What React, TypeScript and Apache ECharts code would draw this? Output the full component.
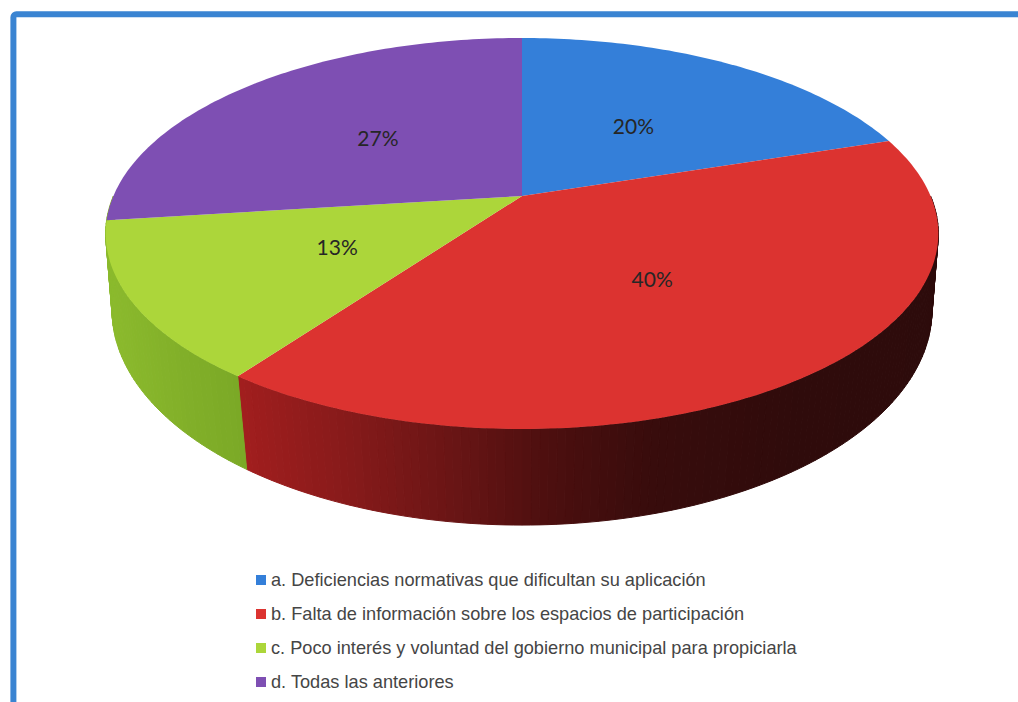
import React, { useEffect, useRef } from "react";
import * as echarts from "echarts";

const categories = [
  "a. Deficiencias normativas que dificultan su aplicación",
  "b. Falta de información sobre los espacios de participación",
  "c. Poco interés y voluntad del gobierno municipal para propiciarla",
  "d. Todas las anteriores",
];
const percentages = [20, 40, 13, 27];
const topColors = ["#347FD9", "#DC3330", "#ACD63A", "#7E4FB3"];
// side colours along the horizontal axis of the picture: [x, colour]
const redSide: [number, number[]][] = [
  [240, [162, 30, 30]],
  [350, [134, 26, 26]],
  [450, [106, 21, 21]],
  [550, [76, 15, 15]],
  [650, [56, 12, 12]],
  [800, [47, 11, 11]],
  [940, [45, 11, 11]],
];
const greenSide: [number, number[]][] = [
  [105, [140, 187, 45]],
  [180, [130, 176, 41]],
  [250, [122, 168, 38]],
];
const sideRamps = [redSide, redSide, greenSide, greenSide];

const CX = 522;
const TOP = { y0: 196, a: 188.3, b: 0.1918, c: 408.6 };
const BOTTOM = { y0: 273.5, a: 208.8, b: 0.17, c: 404 };

const project = (d: typeof TOP, deg: number, r = 1): [number, number] => {
  const t = (deg * Math.PI) / 180;
  const u = r * Math.sin(t);
  const v = r * Math.cos(t);
  const w = 1 + d.b * v;
  return [CX + (d.c * u) / w, d.y0 - (d.a * v) / w];
};

const rampColor = (ramp: [number, number[]][], x: number) => {
  let i = 0;
  while (i < ramp.length - 2 && x > ramp[i + 1][0]) i++;
  const [x0, c0] = ramp[i];
  const [x1, c1] = ramp[i + 1];
  const f = Math.max(0, Math.min(1, (x - x0) / (x1 - x0)));
  const c = c0.map((v, k) => Math.round(v + (c1[k] - v) * f));
  return `rgb(${c[0]},${c[1]},${c[2]})`;
};

const total = percentages.reduce((s, v) => s + v, 0);

const makeRenderItem = (index: number) => (_params: any, api: any) => {
  const value = api.value(0);
  const before = percentages.slice(0, index).reduce((s, v) => s + v, 0);
  const start = (before / total) * 360;
  const end = start + (value / total) * 360;
  const children: any[] = [];

  const visStart = Math.max(start, 90);
  const visEnd = Math.min(end, 270);
  const step = 1;
  for (let a = visStart; a < visEnd; a += step) {
    const b = Math.min(a + step, visEnd);
    const pts = [project(TOP, a), project(TOP, b), project(BOTTOM, b), project(BOTTOM, a)];
    const col = rampColor(sideRamps[index], (pts[0][0] + pts[2][0]) / 2);
    children.push({
      type: "polygon",
      z2: 1,
      silent: true,
      shape: { points: pts },
      style: { fill: col, stroke: col, lineWidth: 1 },
    });
  }

  const top: [number, number][] = [[CX, TOP.y0]];
  for (let a = start; a < end; a += 1) top.push(project(TOP, a));
  top.push(project(TOP, end));
  children.push({
    type: "polygon",
    z2: 10,
    shape: { points: top },
    style: { fill: topColors[index] },
  });

  const [lx, ly] = project(TOP, (start + end) / 2, 0.5);
  children.push({
    type: "text",
    z2: 20,
    x: lx,
    y: ly,
    style: {
      text: `${value}%`,
      fill: "#262626",
      fontSize: 21,
      fontFamily: "Lato, 'Open Sans', sans-serif",
      align: "center",
      verticalAlign: "middle",
    },
  });
  return { type: "group", children };
};

export default function App() {
  const ref = useRef<HTMLDivElement>(null);
  useEffect(() => {
    if (!ref.current) return;
    const chart = echarts.init(ref.current, undefined, { renderer: "svg" });
    chart.setOption({
      animation: false,
      backgroundColor: "#ffffff",
      graphic: [
        {
          type: "rect",
          z: -10,
          silent: true,
          shape: { x: 13.4, y: 14.3, width: 1200, height: 900, r: 3 },
          style: { fill: "#ffffff", stroke: "#3A84D2", lineWidth: 6 },
        },
      ],
      legend: {
        orient: "vertical",
        left: 251,
        top: 565,
        itemWidth: 10,
        itemHeight: 10,
        itemGap: 14,
        icon: "rect",
        data: categories,
        textStyle: {
          color: "#454545",
          fontSize: 18.2,
          lineHeight: 20,
          fontFamily: "'Liberation Sans', Arial, sans-serif",
        },
      },
      series: categories.map((name, i) => ({
        type: "custom",
        name,
        coordinateSystem: "none",
        itemStyle: { color: topColors[i] },
        renderItem: makeRenderItem(i),
        data: [[percentages[i]]],
      })),
    });
    return () => chart.dispose();
  }, []);
  return (
    <div
      ref={ref}
      style={{ position: "absolute", left: 0, top: 0, width: 1018, height: 702 }}
    />
  );
}
